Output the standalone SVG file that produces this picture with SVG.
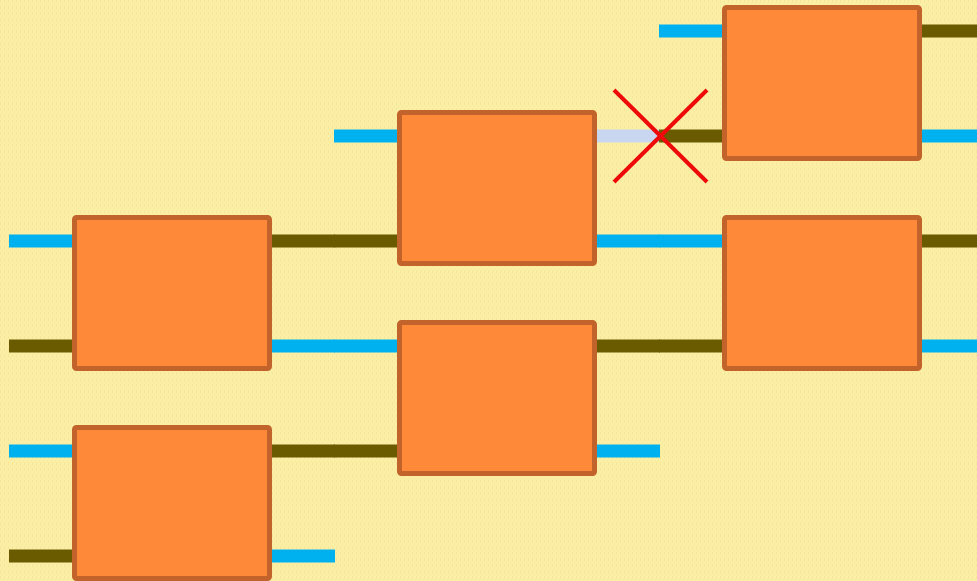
<svg xmlns="http://www.w3.org/2000/svg" width="977" height="581" viewBox="0 0 977 581">
  <style>
    .box { fill: #fe8939; stroke: #c1632a; stroke-width: 5; }
    .blue { fill: #00b1f0; }
    .olive { fill: #6a5a00; }
    .pale { fill: #c9d6ef; }
    .cross { stroke: #ee0a0a; stroke-width: 4; }
  </style>
  <defs>
    <!-- fine stippled paper texture -->
    <pattern id="paper" width="4" height="6" patternUnits="userSpaceOnUse">
      <rect width="4" height="6" fill="#fbefa6"/>
      <rect x="0" y="0" width="1" height="3" fill="#f3e396" opacity="0.7"/>
      <rect x="2" y="3" width="1" height="3" fill="#f6e89d" opacity="0.6"/>
    </pattern>
  </defs>

  <rect width="977" height="581" fill="url(#paper)"/>

  <!-- wire stubs: 13px bars, two per side of each block -->
  <g id="connectors">
    <!-- left column inputs -->
    <rect class="blue" x="9" y="234.5" width="65" height="13"/>
    <rect class="olive" x="9" y="339.5" width="65" height="13"/>
    <rect class="blue" x="9" y="444.5" width="65" height="13"/>
    <rect class="olive" x="9" y="549.5" width="65" height="13"/>
    <!-- left column outputs -->
    <rect class="olive" x="270" y="234.5" width="65" height="13"/>
    <rect class="blue" x="270" y="339.5" width="65" height="13"/>
    <rect class="olive" x="270" y="444.5" width="65" height="13"/>
    <rect class="blue" x="270" y="549.5" width="65" height="13"/>
    <!-- middle column inputs -->
    <rect class="blue" x="334" y="129.5" width="65" height="13"/>
    <rect class="olive" x="334" y="234.5" width="65" height="13"/>
    <rect class="blue" x="334" y="339.5" width="65" height="13"/>
    <rect class="olive" x="334" y="444.5" width="65" height="13"/>
    <!-- middle column outputs -->
    <rect class="pale" x="595" y="129.5" width="65" height="13"/>
    <rect class="blue" x="595" y="234.5" width="65" height="13"/>
    <rect class="olive" x="595" y="339.5" width="65" height="13"/>
    <rect class="blue" x="595" y="444.5" width="65" height="13"/>
    <!-- right column inputs -->
    <rect class="blue" x="659" y="24.5" width="65" height="13"/>
    <rect class="olive" x="659" y="129.5" width="65" height="13"/>
    <rect class="blue" x="659" y="234.5" width="65" height="13"/>
    <rect class="olive" x="659" y="339.5" width="65" height="13"/>
    <!-- right column outputs -->
    <rect class="olive" x="920" y="24.5" width="65" height="13"/>
    <rect class="blue" x="920" y="129.5" width="65" height="13"/>
    <rect class="olive" x="920" y="234.5" width="65" height="13"/>
    <rect class="blue" x="920" y="339.5" width="65" height="13"/>
    <!-- broken link marker -->
    <line class="cross" x1="614" y1="90" x2="707" y2="182"/>
    <line class="cross" x1="707" y1="90" x2="614" y2="182"/>
  </g>

  <g id="block-l1"><rect class="box" x="74.5" y="217.5" width="195" height="151" rx="2"/></g>
  <g id="block-l2"><rect class="box" x="74.5" y="427.5" width="195" height="151" rx="2"/></g>
  <g id="block-m1"><rect class="box" x="399.5" y="112.5" width="195" height="151" rx="2"/></g>
  <g id="block-m2"><rect class="box" x="399.5" y="322.5" width="195" height="151" rx="2"/></g>
  <g id="block-r1"><rect class="box" x="724.5" y="7.5" width="195" height="151" rx="2"/></g>
  <g id="block-r2"><rect class="box" x="724.5" y="217.5" width="195" height="151" rx="2"/></g>
</svg>
